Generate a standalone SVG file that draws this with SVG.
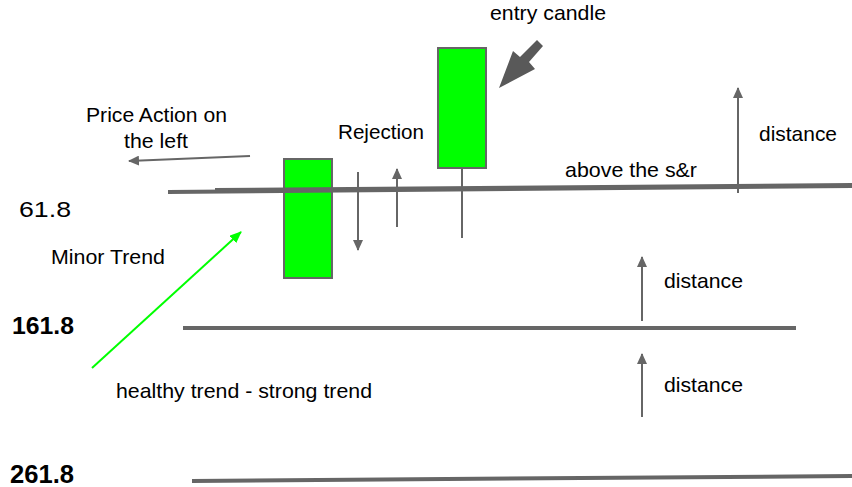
<svg xmlns="http://www.w3.org/2000/svg" width="852" height="487" viewBox="0 0 852 487">
<defs>
<style>
text{font-family:"Liberation Sans",Arial,sans-serif;fill:#000;font-size:21px}
.b{font-weight:bold}
.lvl{stroke:#666;stroke-width:4;fill:none}
.g{stroke:#666;stroke-width:2;fill:none}
.candle{fill:#00ff00;stroke:#666;stroke-width:2}
</style>
<marker id="ah" markerUnits="userSpaceOnUse" markerWidth="11" markerHeight="10" refX="10" refY="5" orient="auto">
<path d="M0,0 L11,5 L0,10 z" fill="#666"/>
</marker>
<marker id="ahg" markerUnits="userSpaceOnUse" markerWidth="12" markerHeight="10" refX="11" refY="5" orient="auto">
<path d="M0,0 L12,5 L0,10 z" fill="#00ff00"/>
</marker>
</defs>
<rect width="852" height="487" fill="#fff"/>
<g id="candle1"><rect class="candle" x="284" y="159" width="48" height="119"/></g>
<g id="levels">
<line class="lvl" x1="168" y1="192" x2="852" y2="186"/>
<line class="lvl" x1="215" y1="190" x2="852" y2="185" stroke-width="3"/>
<line class="lvl" x1="183" y1="328" x2="796" y2="328"/>
<line class="lvl" x1="192" y1="481" x2="852" y2="476"/>
</g>
<g id="candle2">
<line class="g" x1="462" y1="168" x2="462" y2="238"/>
<rect class="candle" x="438" y="48" width="48" height="120"/>
</g>
<g id="connectors">
<line class="g" x1="250" y1="156" x2="129" y2="161" marker-end="url(#ah)"/>
<line class="g" x1="358" y1="172" x2="358" y2="250" marker-end="url(#ah)"/>
<line class="g" x1="397" y1="227" x2="397" y2="169" marker-end="url(#ah)"/>
<line class="g" x1="738" y1="193" x2="738" y2="88" marker-end="url(#ah)"/>
<line class="g" x1="642" y1="321" x2="642" y2="257" marker-end="url(#ah)"/>
<line class="g" x1="642" y1="417" x2="642" y2="354" marker-end="url(#ah)"/>
<line x1="92" y1="368" x2="241" y2="232" stroke="#00ff00" stroke-width="2" marker-end="url(#ahg)"/>
<path d="M537,40 L543,46 L529,62 L535,69 L499,88 L513,51 L520,57 Z" fill="#595959"/>
</g>
<g id="labels">
<text x="490" y="20" textLength="116" lengthAdjust="spacingAndGlyphs">entry candle</text>
<text x="86" y="122" textLength="141" lengthAdjust="spacingAndGlyphs">Price Action on</text>
<text x="124" y="148" textLength="64" lengthAdjust="spacingAndGlyphs">the left</text>
<text x="338" y="139" textLength="86" lengthAdjust="spacingAndGlyphs">Rejection</text>
<text x="759" y="141" textLength="78" lengthAdjust="spacingAndGlyphs">distance</text>
<text x="565" y="177" textLength="132" lengthAdjust="spacingAndGlyphs">above the s&amp;r</text>
<text x="19" y="217" style="font-size:22px" textLength="52" lengthAdjust="spacingAndGlyphs">61.8</text>
<text x="51" y="264" textLength="114" lengthAdjust="spacingAndGlyphs">Minor Trend</text>
<text class="b" x="12" y="334" style="font-size:24px" textLength="62" lengthAdjust="spacingAndGlyphs">161.8</text>
<text x="664" y="288" textLength="79" lengthAdjust="spacingAndGlyphs">distance</text>
<text x="664" y="392" textLength="79" lengthAdjust="spacingAndGlyphs">distance</text>
<text x="116" y="398" textLength="256" lengthAdjust="spacingAndGlyphs">healthy trend - strong trend</text>
<text class="b" x="10" y="483" style="font-size:25px" textLength="64" lengthAdjust="spacingAndGlyphs">261.8</text>
</g>
</svg>
